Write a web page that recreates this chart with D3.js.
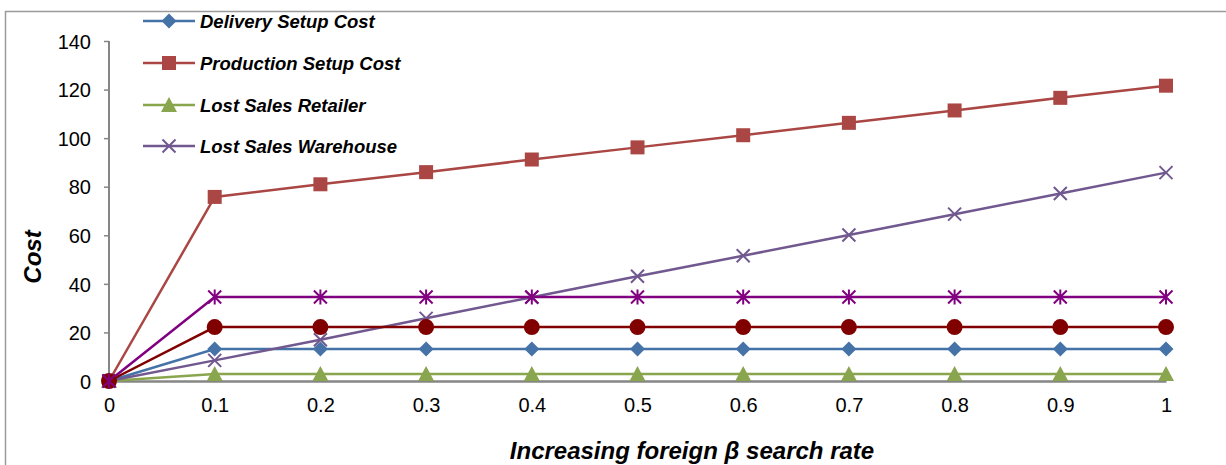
<!DOCTYPE html>
<html><head><meta charset="utf-8">
<script src="https://cdn.jsdelivr.net/npm/d3@7"></script>
<style>body{margin:0;background:#fff}svg{display:block}</style>
</head><body><svg id="c" width="1226" height="465"></svg>
<script>
const xValues = [0, 0.1, 0.2, 0.3, 0.4, 0.5, 0.6, 0.7, 0.8, 0.9, 1];
const xTickLabels = ["0","0.1","0.2","0.3","0.4","0.5","0.6","0.7","0.8","0.9","1"];
const yTicks = [0, 20, 40, 60, 80, 100, 120, 140];
const deliverySetup = [0, 13.2, 13.2, 13.2, 13.2, 13.2, 13.2, 13.2, 13.2, 13.2, 13.2];
const productionSetup = [0, 75.8, 81, 86, 91.2, 96.2, 101.2, 106.3, 111.4, 116.6, 121.6];
const lostSalesRetailer = [0, 2.9, 2.9, 2.9, 2.9, 2.9, 2.9, 2.9, 2.9, 2.9, 2.9];
const lostSalesWarehouse = [0, 8.5, 17, 25.8, 34.5, 43.1, 51.6, 60.1, 68.7, 77.2, 85.8];
const extraCircle = [0, 22.2, 22.2, 22.2, 22.2, 22.2, 22.2, 22.2, 22.2, 22.2, 22.2];
const extraStar = [0, 34.6, 34.6, 34.6, 34.6, 34.6, 34.6, 34.6, 34.6, 34.6, 34.6];
const seriesNames = ["Delivery Setup Cost","Production Setup Cost","Lost Sales Retailer","Lost Sales Warehouse"];

const series = [
  {name: seriesNames[0], values: deliverySetup, color: "#4572A7", marker: "diamond", legend: true},
  {name: seriesNames[1], values: productionSetup, color: "#AA4643", marker: "square", legend: true},
  {name: seriesNames[2], values: lostSalesRetailer, color: "#89A54E", marker: "triangle", legend: true},
  {name: seriesNames[3], values: lostSalesWarehouse, color: "#71588F", marker: "x", legend: true},
  {name: "", values: extraCircle, color: "#800000", marker: "circle", legend: false},
  {name: "", values: extraStar, color: "#800080", marker: "star", legend: false}
];

const FONT = "Liberation Sans, Arial, sans-serif";
const svg = d3.select("#c");
const x = d3.scaleLinear().domain([0, 1]).range([109, 1166]);
const y = d3.scaleLinear().domain([0, 140]).range([381, 41]);

// outer frame
svg.append("path").attr("d", "M5.5,465 L5.5,11.5 L1226,11.5").attr("fill","none").attr("stroke","#9a9a9a").attr("stroke-width",1.5);

// axes
const yAxis = d3.axisLeft(y).tickValues(yTicks).tickSize(5).tickPadding(13);
const gy = svg.append("g").attr("transform", "translate(109,0)").call(yAxis);
gy.select(".domain").attr("stroke","#868686").attr("stroke-width",2).attr("d","M0,41V381");
gy.selectAll(".tick line").attr("stroke","#868686").attr("stroke-width",1.5);
gy.selectAll("text").attr("font-family",FONT).attr("font-size",20).attr("fill","#000").attr("dy","0.36em");

const xAxis = d3.axisBottom(x).tickValues(xValues).tickFormat((d,i)=>xTickLabels[i]).tickSize(0).tickPadding(17);
const gx = svg.append("g").attr("transform", "translate(0,381)").call(xAxis);
gx.select(".domain").attr("stroke","#868686").attr("stroke-width",2.5);
gx.selectAll("text").attr("font-family",FONT).attr("font-size",20).attr("fill","#000");

// titles
svg.append("text").attr("x", 692).attr("y", 459).attr("text-anchor","middle")
  .attr("font-family",FONT).attr("font-size",24).attr("font-weight","bold").attr("font-style","italic")
  .text("Increasing foreign β search rate");
svg.append("text").attr("transform","translate(41,257) rotate(-90)").attr("text-anchor","middle")
  .attr("font-family",FONT).attr("font-size",24).attr("font-weight","bold").attr("font-style","italic")
  .text("Cost");

function drawMarker(g, type, cx, cy, color) {
  if (type === "diamond") {
    g.append("path").attr("d", `M${cx},${cy-7.5}L${cx+7.5},${cy}L${cx},${cy+7.5}L${cx-7.5},${cy}Z`).attr("fill", color);
  } else if (type === "square") {
    g.append("rect").attr("x", cx-7).attr("y", cy-7).attr("width",14).attr("height",14).attr("fill", color);
  } else if (type === "triangle") {
    g.append("path").attr("d", `M${cx},${cy-8}L${cx+8},${cy+7}L${cx-8},${cy+7}Z`).attr("fill", color);
  } else if (type === "circle") {
    g.append("circle").attr("cx", cx).attr("cy", cy).attr("r", 8).attr("fill", color);
  } else if (type === "x") {
    g.append("path").attr("d", `M${cx-6.5},${cy-6.5}L${cx+6.5},${cy+6.5}M${cx-6.5},${cy+6.5}L${cx+6.5},${cy-6.5}`).attr("stroke", color).attr("stroke-width",2);
  } else if (type === "star") {
    g.append("path").attr("d", `M${cx-6.5},${cy-6.5}L${cx+6.5},${cy+6.5}M${cx-6.5},${cy+6.5}L${cx+6.5},${cy-6.5}M${cx},${cy-7.5}L${cx},${cy+7.5}`).attr("stroke", color).attr("stroke-width",2);
  }
}

const line = d3.line().x((d,i)=>x(xValues[i])).y(d=>y(d));
const plot = svg.append("g");
series.forEach(s => {
  plot.append("path").datum(s.values).attr("d", line).attr("fill","none").attr("stroke", s.color).attr("stroke-width", 2.5);
});
series.forEach(s => {
  const g = plot.append("g");
  s.values.forEach((v,i) => drawMarker(g, s.marker, x(xValues[i]), y(v), s.color));
});

// legend
const legendY = [21, 63, 105, 146];
series.filter(s=>s.legend).forEach((s, i) => {
  const g = svg.append("g");
  const ly = legendY[i];
  g.append("line").attr("x1",143).attr("x2",195).attr("y1",ly).attr("y2",ly).attr("stroke", s.color).attr("stroke-width",2.5);
  drawMarker(g, s.marker, 169, ly, s.color);
  g.append("text").attr("x",200).attr("y",ly).attr("dy","0.36em")
    .attr("font-family",FONT).attr("font-size",18.5).attr("font-weight","bold").attr("font-style","italic")
    .text(s.name);
});
</script></body></html>
